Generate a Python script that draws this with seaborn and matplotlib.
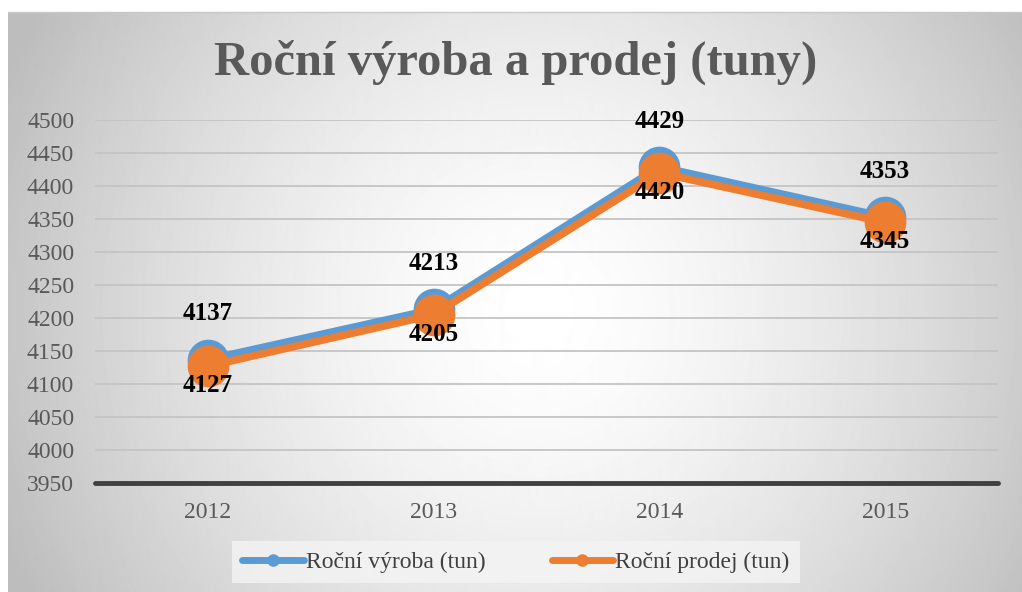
import matplotlib
matplotlib.use("Agg")
import matplotlib.pyplot as plt
import seaborn as sns
import numpy as np
import pandas as pd
from matplotlib.lines import Line2D

# data
years = ["2012", "2013", "2014", "2015"]
vyroba = [4137, 4213, 4429, 4353]
prodej = [4127, 4205, 4420, 4345]
series_names = ["Roční výroba (tun)", "Roční prodej (tun)"]
colors = ["#5B9BD5", "#ED7D31"]

df = pd.DataFrame({
    "rok": years * 2,
    "tuny": vyroba + prodej,
    "serie": [series_names[0]] * 4 + [series_names[1]] * 4,
})

sns.set_style("white")
plt.rcParams["font.family"] = ["Liberation Serif", "DejaVu Serif"]

W, H = 1022, 592
fig = plt.figure(figsize=(W / 100, H / 100), dpi=100)
fig.patch.set_facecolor("white")

# radial grey gradient behind the chart area
bg = fig.add_axes([8 / W, 0, (W - 8) / W, (H - 12) / H])
bw, bh = W - 8, H - 12
yy, xx = np.mgrid[0:bh, 0:bw]
d = np.sqrt((xx - 530) ** 2 + (yy - 300) ** 2) / 584.0
shade = 1 - 0.26 * np.clip(d, 0, 1) ** 1.5
bg.imshow(shade, cmap="gray", vmin=0, vmax=1, aspect="auto", interpolation="bilinear")
bg.axis("off")
fig.add_artist(Line2D([8 / W, 1], [1 - 12 / H, 1 - 12 / H], color="#c8c8c8", lw=1))

ax = fig.add_axes([95 / W, (H - 483) / H, (998 - 95) / W, (483 - 120) / H])
ax.set_facecolor("none")

sns.lineplot(data=df, x="rok", y="tuny", hue="serie", palette=colors,
             marker="o", markersize=30, markeredgewidth=0, linewidth=5.5,
             legend=False, ax=ax, zorder=3)

ax.set_xlim(-0.5, 3.5)
ax.set_ylim(3950, 4500)
ax.set_yticks(np.arange(3950, 4501, 50))
ax.yaxis.grid(True, color="#c4c4c4", lw=1.3)
ax.set_axisbelow(True)
ax.axhline(3950, color="#404040", lw=3.5, zorder=2, clip_on=False)
for s in ax.spines.values():
    s.set_visible(False)
ax.tick_params(axis="y", length=0, pad=15, labelsize=17, labelcolor="#595959")
ax.tick_params(axis="x", length=0, pad=14, labelsize=17, labelcolor="#595959")
ax.set_xlabel("")
ax.set_ylabel("")

for i, (a, b) in enumerate(zip(vyroba, prodej)):
    ax.annotate(str(a), (i, a), xytext=(0, 33), textcoords="offset points",
                ha="center", va="center", fontsize=18, fontweight="bold", color="black")
    ax.annotate(str(b), (i, b), xytext=(0, -14), textcoords="offset points",
                ha="center", va="center", fontsize=18, fontweight="bold", color="black")

fig.text(516 / W, 1 - 62 / H, "Roční výroba a prodej (tuny)", ha="center", va="center",
         fontsize=35, fontweight="bold", color="#595959")

handles = [Line2D([0], [0], color=c, lw=5, marker="o", markersize=8) for c in colors]
leg = fig.legend(handles, series_names, loc="center", bbox_to_anchor=(516 / W, 1 - 562 / H),
                 ncol=2, frameon=True, fancybox=False, fontsize=17, handlelength=2.6,
                 handletextpad=0.1, columnspacing=2.8, borderpad=0.45)
leg.get_frame().set_facecolor("#f4f4f4")
leg.get_frame().set_edgecolor("none")
for t in leg.get_texts():
    t.set_color("#404040")

fig.savefig("out.png", dpi=100)
